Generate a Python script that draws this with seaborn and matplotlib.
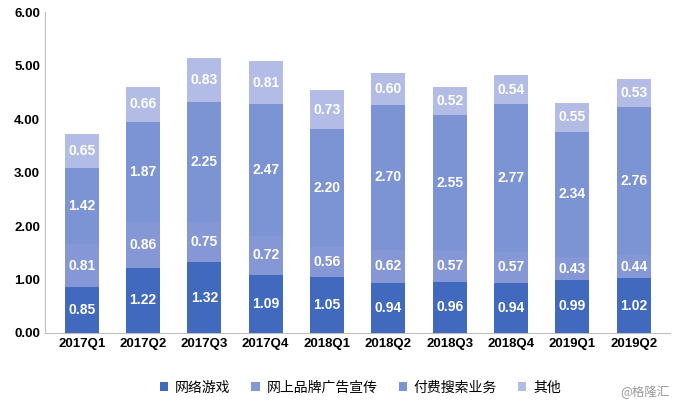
import matplotlib
matplotlib.use("Agg")
import matplotlib.pyplot as plt
from matplotlib import font_manager as fm
import seaborn as sns
import pandas as pd
import numpy as np

plt.rcParams["font.family"] = ["Liberation Sans", "Noto Sans CJK SC", "Noto Sans CJK JP"]
cjk = fm.FontProperties(family=["Noto Sans CJK SC", "Noto Sans CJK JP"], size=10)

quarters = ["2017Q1","2017Q2","2017Q3","2017Q4","2018Q1","2018Q2","2018Q3","2018Q4","2019Q1","2019Q2"]
series_names = ["网络游戏", "网上品牌广告宣传", "付费搜索业务", "其他"]
games = [0.85,1.22,1.32,1.09,1.05,0.94,0.96,0.94,0.99,1.02]
brand_ads = [0.81,0.86,0.75,0.72,0.56,0.62,0.57,0.57,0.43,0.44]
search = [1.42,1.87,2.25,2.47,2.20,2.70,2.55,2.77,2.34,2.76]
other = [0.65,0.66,0.83,0.81,0.73,0.60,0.52,0.54,0.55,0.53]
colors = ["#4169BE", "#8597D5", "#7C93D4", "#B3BCE4"]

fig = plt.figure(figsize=(6.8, 4.07), dpi=100)
ax = fig.add_axes([0.066, 0.182, 0.92, 0.788])

vals = [games, brand_ads, search, other]
bottom = np.zeros(len(quarters))
for k, (name, v, c) in enumerate(zip(series_names, vals, colors)):
    df = pd.DataFrame({"q": quarters, "v": np.array(v) + bottom})
    sns.barplot(data=df, x="q", y="v", color=c, ax=ax, width=0.55,
                saturation=1, label=name, zorder=5 - k, linewidth=0, edgecolor="none")
    for i, (val, b) in enumerate(zip(v, bottom)):
        ax.text(i, b + val / 2, f"{val:.2f}", ha="center", va="center",
                color="white", fontsize=10, fontweight="bold", zorder=10)
    bottom = bottom + np.array(v)

ax.set_ylim(0, 6)
ax.set_yticks(np.arange(0, 6.01, 1))
ax.set_yticklabels([f"{t:.2f}" for t in np.arange(0, 6.01, 1)], fontsize=9.5, fontweight="bold")
ax.set_xlabel(""); ax.set_ylabel("")
ax.tick_params(axis="x", labelsize=9.5, length=0)
for l in ax.get_xticklabels():
    l.set_fontweight("bold")
ax.tick_params(axis="y", length=0)
for s in ["top", "right"]:
    ax.spines[s].set_visible(False)
ax.spines["left"].set_color("#bfbfbf")
ax.spines["bottom"].set_color("#bfbfbf")
ax.set_xlim(-0.6, 9.6)

handles, labels = ax.get_legend_handles_labels()
if ax.get_legend():
    ax.get_legend().remove()
fig.legend(handles, labels, loc="lower center", ncol=4, frameon=False,
           bbox_to_anchor=(0.53, 0.0), prop=cjk, handlelength=0.6, handleheight=0.6,
           columnspacing=1.5, handletextpad=0.5)
fig.text(0.985, 0.02, "@格隆汇", ha="right", va="bottom", color="#999999",
         fontproperties=fm.FontProperties(family=["Noto Sans CJK SC", "Noto Sans CJK JP"], size=9))
fig.savefig("out.png", dpi=100)
